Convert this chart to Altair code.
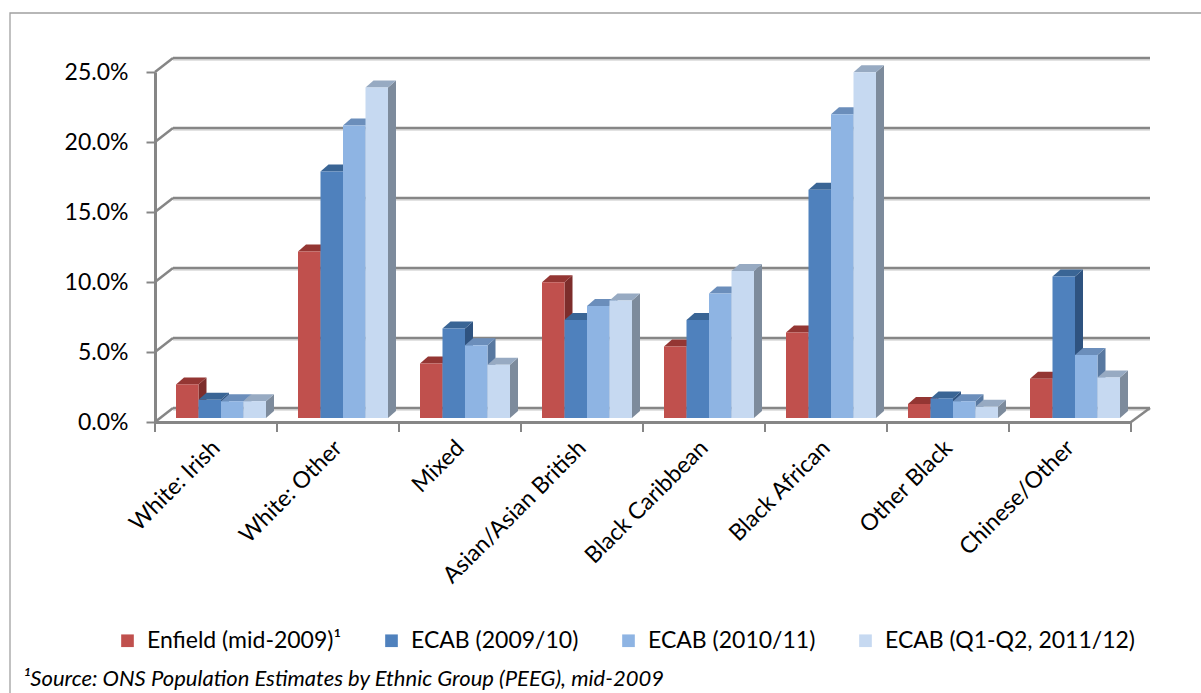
import json

import altair as alt
import pandas as pd

# ---- data -------------------------------------------------------------------
categories = ["White: Irish", "White: Other", "Mixed", "Asian/Asian British",
              "Black Caribbean", "Black African", "Other Black", "Chinese/Other"]
series_names = ["Enfield (mid-2009)¹", "ECAB (2009/10)", "ECAB (2010/11)",
                "ECAB (Q1-Q2, 2011/12)"]
enfield_mid_2009 = [2.4, 11.9, 3.9, 9.7, 5.1, 6.1, 1.0, 2.8]
ecab_2009_10 = [1.3, 17.6, 6.4, 7.0, 7.0, 16.3, 1.4, 10.1]
ecab_2010_11 = [1.2, 20.9, 5.2, 8.0, 8.9, 21.7, 1.2, 4.5]
ecab_2011_12 = [1.2, 23.6, 3.8, 8.4, 10.5, 24.7, 0.8, 2.9]
y_ticks = [0, 5, 10, 15, 20, 25]
footnote = "¹Source: ONS Population Estimates by Ethnic Group (PEEG), mid-2009"

# ---- styling ----------------------------------------------------------------
front_colors = ["#C0504D", "#4F81BD", "#8EB4E3", "#C6D9F1"]
top_colors = ["#943633", "#3A6595", "#6B8EBB", "#97AAC2"]
side_colors = ["#7D2D2B", "#2F5380", "#5878A0", "#7D8B9C"]
FONT = "Lato"
FONT_SIZE = 23
GRID = "#868686"

W, H = 976, 350                 # plot area (front plane)
N = len(categories)
Y_MAX = y_ticks[-1]
PX_X = W / N                    # pixels per category
PX_Y = H / Y_MAX                # pixels per percentage point
BAR = 22.5 / PX_X               # column width in category units
DX, DY = 8 / PX_X, 7 / PX_Y     # receding depth of a column in data units
COL_DX, COL_DY = 5, -4          # columns stand a little behind the front edge
WALL_DX, WALL_DY = 18, -14      # back wall offset

# ---- derived tables ---------------------------------------------------------
values = [enfield_mid_2009, ecab_2009_10, ecab_2010_11, ecab_2011_12]
front_rows, top_rows, side_rows = [], [], []
for i, cat in enumerate(categories):
    for j, name in enumerate(series_names):
        v = values[j][i]
        xl = i + 0.5 + (j - 2) * BAR
        xr = xl + BAR
        key = f"{i}-{j}"
        front_rows.append(dict(category=cat, series=name, value=v, xl=xl, xr=xr, base=0.0))
        for x, y, y2 in [(xl, v, v), (xl + DX, v + DY, v), (xr, v + DY, v),
                         (xr + DX, v + DY, v + DY)]:
            top_rows.append(dict(key=key, x=x, y=y, y2=y2, shade=top_colors[j]))
        for x, y, y2 in [(xr, v, 0.0), (xr + DX, v + DY, DY)]:
            side_rows.append(dict(key=key, x=x, y=y, y2=y2, shade=side_colors[j]))

front_df = pd.DataFrame(front_rows)
top_df = pd.DataFrame(top_rows)
side_df = pd.DataFrame(side_rows)
grid_df = pd.DataFrame({"y": y_ticks, "x0": 0, "x1": N})
bounds_df = pd.DataFrame({"b": list(range(N + 1)), "zero": 0})
floor_df = pd.DataFrame({"x": [N], "zero": [0]})
note_df = pd.DataFrame({"note": [footnote]})
frame_df = pd.DataFrame({"k": [0]})

xs = alt.Scale(domain=[0, N], nice=False, zero=False)
ys = alt.Scale(domain=[0, Y_MAX], nice=False)

# one axis definition per channel, shared by every layer so that they merge
label_expr = json.dumps(categories) + "[floor(datum.value)]"
x_axis = alt.Axis(
    values=[i + 0.5 for i in range(N)], labelExpr=label_expr, title=None,
    labelAngle=-45, labelAlign="right", labelBaseline="middle",
    labelPadding=22, labelFont=FONT, labelFontSize=FONT_SIZE, labelColor="black",
    labelOverlap=False, labelLimit=400,
    ticks=False, grid=False, domainColor=GRID, domainWidth=3,
)
y_axis = alt.Axis(
    values=y_ticks, labelExpr="format(datum.value, '.1f') + '%'", title=None,
    labelFont=FONT, labelFontSize=FONT_SIZE, labelColor="black", labelPadding=18,
    labelOverlap=False,
    tickColor=GRID, tickWidth=2, tickSize=9, grid=False,
    domainColor=GRID, domainWidth=3,
)


def X(field):
    return alt.X(field, scale=xs, axis=x_axis)


def Y(field):
    return alt.Y(field, scale=ys, axis=y_axis, stack=None)


# ---- walls ------------------------------------------------------------------
wall_shadow = alt.Chart(grid_df).mark_rule(
    color="#D9D9D9", strokeWidth=1.5,
    xOffset=WALL_DX, x2Offset=WALL_DX + 1, yOffset=WALL_DY + 2, y2Offset=WALL_DY + 2,
).encode(x=X("x0:Q"), x2="x1", y=Y("y:Q"), y2="y")

wall_lines = alt.Chart(grid_df).mark_rule(
    color=GRID, strokeWidth=2.5,
    xOffset=WALL_DX, x2Offset=WALL_DX + 1, yOffset=WALL_DY, y2Offset=WALL_DY,
).encode(x=X("x0:Q"), x2="x1", y=Y("y:Q"), y2="y")

side_wall = alt.Chart(grid_df).mark_rule(
    color=GRID, strokeWidth=2.5, x2Offset=WALL_DX, y2Offset=WALL_DY,
).encode(x=X("x0:Q"), x2="x0", y=Y("y:Q"), y2="y")

floor_edge = alt.Chart(floor_df).mark_rule(
    color=GRID, strokeWidth=2.5, x2Offset=WALL_DX + 1, y2Offset=WALL_DY,
).encode(x=X("x:Q"), x2="x", y=Y("zero:Q"), y2="zero")

cat_ticks = alt.Chart(bounds_df).mark_rule(
    color=GRID, strokeWidth=2, y2Offset=10,
).encode(x=X("b:Q"), y=Y("zero:Q"), y2="zero")

# ---- 3-D columns ------------------------------------------------------------
side_faces = alt.Chart(side_df).mark_area(
    orient="vertical", xOffset=COL_DX, yOffset=COL_DY, y2Offset=COL_DY,
).encode(x=X("x:Q"), y=Y("y:Q"), y2="y2",
         detail="key:N", color=alt.Color("shade:N", scale=None))

top_faces = alt.Chart(top_df).mark_area(
    orient="vertical", xOffset=COL_DX, yOffset=COL_DY, y2Offset=COL_DY,
).encode(x=X("x:Q"), y=Y("y:Q"), y2="y2",
         detail="key:N", color=alt.Color("shade:N", scale=None))

front_faces = alt.Chart(front_df).mark_bar(
    xOffset=COL_DX, x2Offset=COL_DX, yOffset=COL_DY, y2Offset=COL_DY,
).encode(
    x=X("xl:Q"), x2="xr", y=Y("value:Q"), y2="base",
    color=alt.Color("series:N", sort=series_names,
                    scale=alt.Scale(domain=series_names, range=front_colors),
                    legend=alt.Legend(
                        orient="none", legendX=-39, legendY=557, direction="horizontal",
                        title=None, symbolType="square", symbolSize=160,
                        symbolStrokeWidth=0, labelFont=FONT, labelFontSize=FONT_SIZE,
                        labelColor="black", columnPadding=38, labelOffset=8,
                        labelLimit=400, padding=0)),
)

# ---- annotations ------------------------------------------------------------
note = alt.Chart(note_df).mark_text(
    align="left", baseline="middle", font=FONT, fontSize=22,
    fontStyle="italic", color="black",
).encode(x=alt.value(23 - 155), y=alt.value(679 - 72), text="note:N")

frame = alt.Chart(frame_df).mark_rect(
    fillOpacity=0, stroke="#A0A0A0", strokeWidth=1.3,
).encode(x=alt.value(10 - 155), x2=alt.value(1201 - 155 + 20),
         y=alt.value(13 - 72), y2=alt.value(693 - 72 + 20))

chart = alt.layer(
    frame, wall_shadow, wall_lines, side_wall, floor_edge, cat_ticks,
    side_faces, top_faces, front_faces, note,
).properties(
    width=W, height=H,
    autosize=alt.AutoSizeParams(type="none"),
    padding={"left": 155, "top": 72, "right": 70, "bottom": 271},
    background="white",
).configure_view(stroke=None)

chart.save("out.html", embed_options={"renderer": "svg", "actions": False})
